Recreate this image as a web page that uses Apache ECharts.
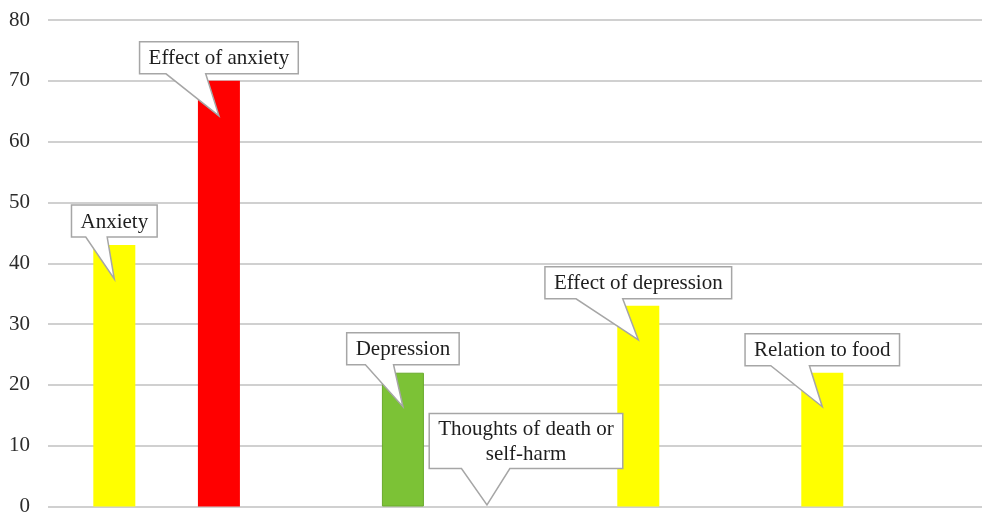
<!DOCTYPE html>
<html>
<head>
<meta charset="utf-8">
<script src="https://cdn.jsdelivr.net/npm/echarts@6/dist/echarts.min.js"></script>
<style>
html,body{margin:0;padding:0;background:#fff;overflow:hidden;}
#chart{width:982px;height:513px;}
</style>
</head>
<body>
<div id="chart"></div>
<script>
// ---- data ----
const categories = ['Anxiety', 'Effect of anxiety', 'Depression', 'Thoughts of death or\nself-harm', 'Effect of depression', 'Relation to food'];
const values = [43, 70, 22, 0, 33, 22];
const xValues = [7.1, 18.3, 38.0, 47.0, 63.2, 82.9];
const yTickLabels = [0, 10, 20, 30, 40, 50, 60, 70, 80];

// ---- styles ----
const barColors = ['#FFFF00', '#FF0000', '#7CC236', '#FFFF00', '#FFFF00', '#FFFF00'];
const calloutLayout = [
  { dx: 0, gap: 8, tip: 34 },
  { dx: 0, gap: 7, tip: 35 },
  { dx: 0, gap: 8, tip: 34 },
  { dx: 39, gap: 38, tip: -1.5 },
  { dx: 0, gap: 7, tip: 34 },
  { dx: 0, gap: 7, tip: 34 }
];
const FONT = '21px "Liberation Serif", "Times New Roman", serif';
const measureCtx = document.createElement('canvas').getContext('2d');

const chart = echarts.init(document.getElementById('chart'));
const option = {
  animation: false,
  backgroundColor: '#fff',
  grid: { left: 48, right: 0, top: 20, bottom: 6.5, containLabel: false, outerBoundsMode: 'none' },
  xAxis: {
    type: 'value', min: 0, max: 100,
    axisLine: { show: false }, axisTick: { show: false }, axisLabel: { show: false }, splitLine: { show: false }
  },
  yAxis: {
    type: 'value',
    min: yTickLabels[0], max: yTickLabels[yTickLabels.length - 1], interval: yTickLabels[1] - yTickLabels[0],
    axisLine: { show: false }, axisTick: { show: false },
    axisLabel: { margin: 18, fontFamily: '"Liberation Serif", "Times New Roman", serif', fontSize: 21, color: '#2b2b2b' },
    splitLine: { lineStyle: { color: '#d0d0d0', width: 2 } }
  },
  series: [
    {
      type: 'bar',
      barWidth: 42,
      data: values.map((v, i) => ({
        value: [xValues[i], v],
        itemStyle: i === 2 ? { color: barColors[i], borderColor: '#6aaa2c', borderWidth: 1 } : { color: barColors[i] }
      }))
    },
    {
      type: 'custom',
      z: 10,
      clip: false,
      data: values.map((v, i) => [xValues[i], v]),
      encode: { x: 0, y: 1 },
      renderItem: function (params, api) {
        const i = params.dataIndex;
        const top = api.coord([api.value(0), api.value(1)]);
        const lay = calloutLayout[i];
        const text = categories[i];
        const lines = text.split('\n');
        measureCtx.font = FONT;
        const tw = Math.max.apply(null, lines.map(l => measureCtx.measureText(l).width));
        const w = tw + 18, h = lines.length * 23 + 9;
        const cx = top[0] + lay.dx;
        const B = top[1] - lay.gap, T = B - h, L = cx - w / 2, R = cx + w / 2;
        const tx = top[0], ty = top[1] + lay.tip;
        const x1 = L + w / 6, x2 = L + w * 5 / 12;
        return {
          type: 'group',
          children: [
            {
              type: 'polygon',
              shape: { points: [[L, T], [R, T], [R, B], [x2, B], [tx, ty], [x1, B], [L, B]] },
              style: { fill: '#fff', stroke: '#a6a6a6', lineWidth: 1.5 }
            },
            {
              type: 'text',
              x: cx, y: (T + B) / 2 + 1,
              style: { text: text, font: FONT, fill: '#1e1e1e', align: 'center', verticalAlign: 'middle', lineHeight: 25 }
            }
          ]
        };
      }
    }
  ]
};
chart.setOption(option);
</script>
</body>
</html>
